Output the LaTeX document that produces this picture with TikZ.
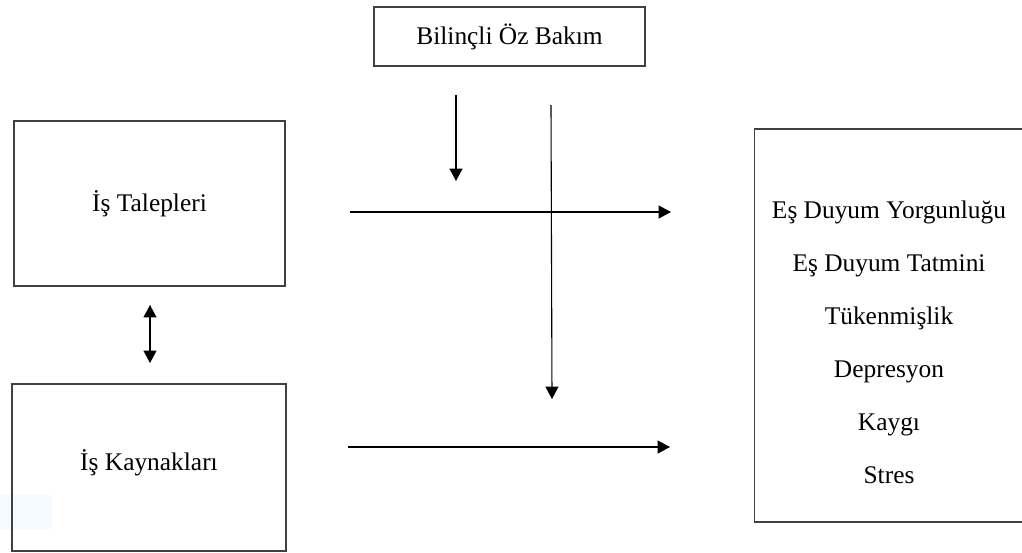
\documentclass[tikz,border=0pt]{standalone}
\usepackage{fontspec}
\setmainfont{Liberation Serif}
\usetikzlibrary{arrows.meta}
\definecolor{boxline}{HTML}{404040}
\definecolor{patch}{HTML}{F4FAFE}
\tikzset{
  box/.style={draw=boxline, line width=0.65pt, rectangle, inner sep=0pt,
    font=\fontsize{12.7}{15}\selectfont},
  conn/.style={draw=black, line width=0.55pt,
    -{Triangle[length=6.2pt,width=6.5pt]}},
  bconn/.style={draw=black, line width=0.55pt,
    {Triangle[length=6.2pt,width=6.5pt]}-{Triangle[length=6.2pt,width=6.5pt]}},
  lbl/.style={inner sep=0pt, align=center, font=\fontsize{12.7}{26.5}\selectfont}
}
\begin{document}
\begin{tikzpicture}[x=0.5pt,y=-0.5pt]
\useasboundingbox (0,0) rectangle (1022,552);
\fill[patch] (0,495) rectangle (52,529);
% boxes
\node[box, minimum width=135.5pt, minimum height=29.5pt] (bob) at (509.5,36.5) {Bilinçli Öz Bakım};
\node[box, minimum width=135.5pt, minimum height=82.5pt] (tal) at (149.5,203.5) {İş Talepleri};
\node[box, minimum width=137pt, minimum height=83.5pt] (kay) at (149,467.5) {};
\node[lbl] (kaytxt) at (149,463) {İş Kaynakları};
\node[box, minimum width=135pt, minimum height=196.5pt] (out) at (889.5,325.5) {};
\node[lbl] (outtxt) at (889,342) {Eş Duyum Yorgunluğu\\Eş Duyum Tatmini\\Tükenmişlik\\Depresyon\\Kaygı\\Stres};
% connector end points
\coordinate (a1s) at (350,212);
\coordinate (a1e) at (671,212);
\coordinate (a2s) at (348,447);
\coordinate (a2e) at (670,447);
\coordinate (v1s) at (456,95);
\coordinate (v1e) at (456,181);
\coordinate (v2s) at (551,105);
\coordinate (v2e) at (552,399);
\coordinate (d1) at (150,305);
\coordinate (d2) at (150,363);
% connectors
\draw[conn] (a1s) -- (a1e);
\draw[conn] (a2s) -- (a2e);
\draw[conn] (v1s) -- (v1e);
\draw[conn] (v2s) -- (v2e);
\draw[bconn] (d1) -- (d2);
\end{tikzpicture}
\end{document}
